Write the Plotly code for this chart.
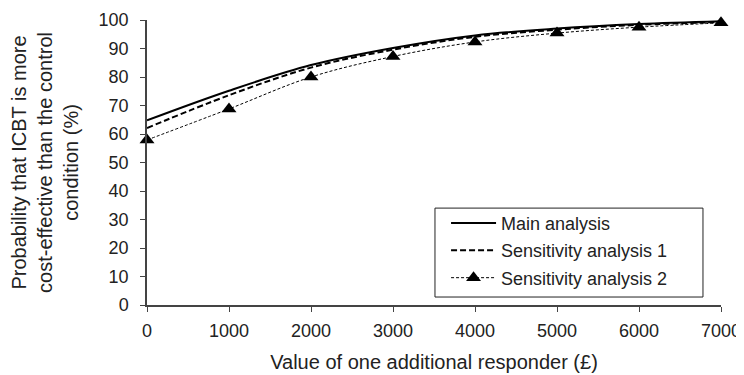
import plotly.graph_objects as go

x_values = [0, 1000, 2000, 3000, 4000, 5000, 6000, 7000]
main_analysis = [64.8, 75.2, 84.2, 90.2, 94.6, 97, 98.6, 99.6]
sensitivity_1 = [62.1, 73.6, 83.3, 89.6, 94.1, 96.6, 98.3, 99.3]
sensitivity_2 = [57.9, 68.8, 80, 87.2, 92.3, 95.4, 97.5, 99.0]
x_ticks = [0, 1000, 2000, 3000, 4000, 5000, 6000, 7000]
y_ticks = [0, 10, 20, 30, 40, 50, 60, 70, 80, 90, 100]
series_names = ["Main analysis", "Sensitivity analysis 1", "Sensitivity analysis 2"]

font_family = "Liberation Sans, Arial, sans-serif"

fig = go.Figure()
fig.add_trace(go.Scatter(x=x_values, y=main_analysis, mode="lines", name=series_names[0],
                         legendgroup="a",
                         line=dict(color="black", width=2, shape="spline"), cliponaxis=False))
fig.add_trace(go.Scatter(x=x_values, y=sensitivity_1, mode="lines", name=series_names[1],
                         legendgroup="b",
                         line=dict(color="black", width=2, dash="6px,3px", shape="spline"), cliponaxis=False))
fig.add_trace(go.Scatter(x=x_values, y=sensitivity_2, mode="lines+markers", name=series_names[2],
                         legendgroup="c",
                         line=dict(color="black", width=1, dash="3px,2px", shape="spline"),
                         marker=dict(symbol="triangle-up", size=13, color="black"), cliponaxis=False))

# legend frame (decoration)
fig.add_shape(type="rect", xref="paper", yref="paper",
              x0=0.5017, x1=0.9686, y0=0.028, y1=0.340,
              line=dict(color="#222", width=1), fillcolor="white", layer="above")

# page body has an 8px default margin, so the figure is sized 8px smaller
fig.update_layout(
    width=736, height=367,
    margin=dict(l=139, r=23, t=12, b=70, autoexpand=False),
    paper_bgcolor="white", plot_bgcolor="white",
    font=dict(family=font_family, size=17, color="#222"),
    showlegend=True,
    legend=dict(x=0.521, y=0.352, xanchor="left", yanchor="top",
                borderwidth=0, bgcolor="rgba(0,0,0,0)",
                font=dict(size=18), traceorder="grouped", tracegroupgap=1,
                itemwidth=45),
)
fig.update_xaxes(range=[0, 7000], tickvals=x_ticks, ticks="outside", ticklen=5, tickcolor="#444",
                 tickfont=dict(size=18), ticklabelstandoff=4, automargin=False,
                 showline=True, linecolor="#444", linewidth=1.5, showgrid=False, zeroline=False,
                 title=dict(text="Value of one additional responder (£)", standoff=15))
fig.update_yaxes(range=[0, 100], tickvals=y_ticks, ticks="outside", ticklen=5, tickcolor="#444",
                 tickfont=dict(size=18), ticklabelstandoff=8, automargin=False,
                 showline=True, linecolor="#444", linewidth=1.5, showgrid=False, zeroline=False,
                 title=dict(text="Probability that ICBT is more<br>cost-effective than the control<br>condition (%)",
                            standoff=18))

fig.write_html("out.html")
